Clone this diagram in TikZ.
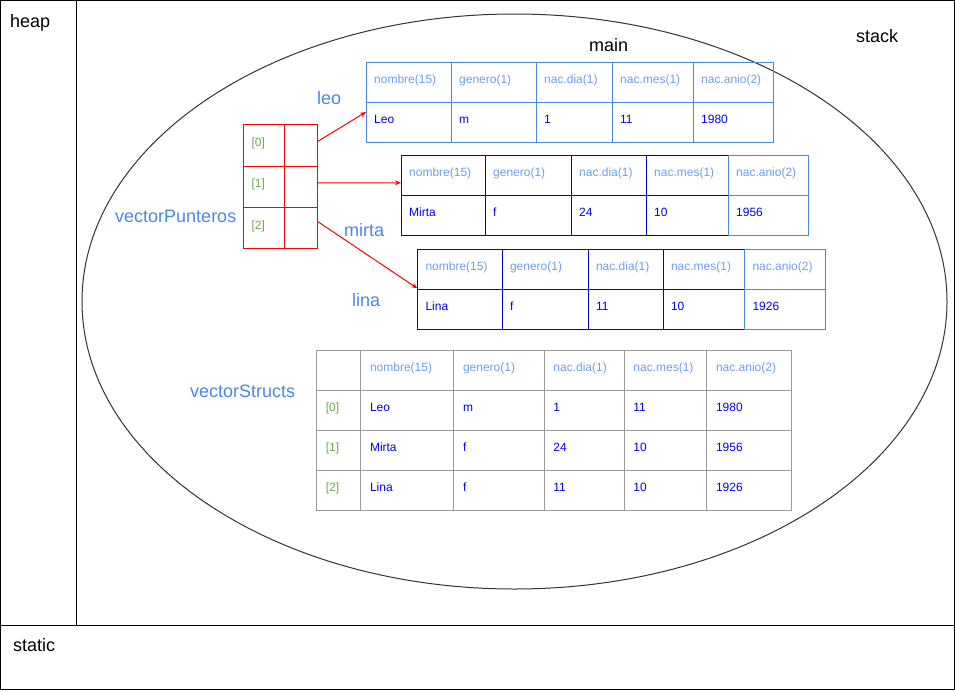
\documentclass[tikz,border=0pt]{standalone}
\usepackage{fontspec}
\setmainfont{Liberation Sans}
\usetikzlibrary{arrows.meta,shapes.geometric}
\definecolor{lblue}{HTML}{4A86E8}
\definecolor{hblue}{HTML}{6D9EEB}
\definecolor{dblue}{HTML}{0000DD}
\definecolor{vblue}{HTML}{0000FF}
\definecolor{igreen}{HTML}{6AA84F}
\definecolor{sgray}{HTML}{999999}
\definecolor{pred}{HTML}{FF0000}
\tikzset{
  bigtxt/.style={font=\fontsize{18}{20}\selectfont, inner sep=0pt, anchor=base west},
  lbl/.style={bigtxt, text=lblue},
  cell/.style={anchor=north west, minimum height=40pt, inner sep=0pt, line width=1pt, draw},
  small/.style={font=\fontsize{12}{14}\selectfont, inner sep=0pt, anchor=base west, yshift=-1pt},
  htxt/.style={small, text=hblue},
  dtxt/.style={small, text=vblue},
  itxt/.style={small, text=igreen},
  pcell/.style={anchor=north west, minimum height=41.3pt, inner sep=0pt, line width=1pt, draw=pred},
  ptr/.style={draw=pred, line width=1pt, -{Stealth[length=6pt,width=5pt]}},
}
\begin{document}
\begin{tikzpicture}[x=1pt,y=-1pt]
\useasboundingbox (0,0) rectangle (955,691);
% frame
\draw[line width=1pt] (0.6,0.6) rectangle (954.4,689.4);
\draw[line width=1pt] (76,0.6) -- (76,625);
\draw[line width=1pt] (0.6,625) -- (954.4,625);
\node[bigtxt] (heap) at (10,27) {heap};
\node[bigtxt] (static) at (13,651) {static};
\node[bigtxt] (stack) at (856,42) {stack};
% main ellipse
\node[ellipse, draw=black!80, line width=1pt, minimum width=865pt, minimum height=575pt, inner sep=0pt] (mainframe) at (514.5,301.5) {};
\node[bigtxt] (maintitle) at (589,51.5) {main};
% labels
\node[lbl] (leolbl) at (317,104) {leo};
\node[lbl] (mirtalbl) at (344,236) {mirta};
\node[lbl] (linalbl) at (352,306) {lina};
\node[lbl] (vplbl) at (115,222) {vectorPunteros};
\node[lbl] (vslbl) at (190,397) {vectorStructs};
% leo table
\foreach \c/\x/\w/\h/\v in {1/0/85/nombre(15)/Leo, 2/85/85/genero(1)/m, 3/170/76/nac.dia(1)/1, 4/246/81/nac.mes(1)/11, 5/327/80/nac.anio(2)/1980} {
  \node[cell, draw=lblue, minimum width=\w pt] (leo-h\c) at (366+\x,61.5) {};
  \node[cell, draw=lblue, minimum width=\w pt] (leo-d\c) at (366+\x,101.5) {};
  \node[htxt] (leo-h\c-t) at ([xshift=8pt]leo-h\c.west) {\h};
  \node[dtxt] (leo-d\c-t) at ([xshift=8pt]leo-d\c.west) {\v};
}
% mirta table
\foreach \c/\x/\w/\h/\v/\col in {1/0/84/nombre(15)/Mirta/dblue, 2/84/86/genero(1)/f/dblue, 3/170/75/nac.dia(1)/24/dblue, 4/245/82/nac.mes(1)/10/dblue, 5/327/80/nac.anio(2)/1956/lblue} {
  \node[cell, draw=\col, minimum width=\w pt] (mirta-h\c) at (401+\x,155.3) {};
  \node[cell, draw=\col, minimum width=\w pt] (mirta-d\c) at (401+\x,195.3) {};
  \node[htxt] (mirta-h\c-t) at ([xshift=8pt]mirta-h\c.west) {\h};
  \node[dtxt] (mirta-d\c-t) at ([xshift=8pt]mirta-d\c.west) {\v};
}
% lina table
\foreach \c/\x/\w/\h/\v/\col in {1/0/84.5/nombre(15)/Lina/dblue, 2/84.5/86/genero(1)/f/dblue, 3/170.5/75/nac.dia(1)/11/dblue, 4/245.5/81.5/nac.mes(1)/10/dblue, 5/327/80.5/nac.anio(2)/1926/lblue} {
  \node[cell, draw=\col, minimum width=\w pt] (lina-h\c) at (417.3+\x,249.3) {};
  \node[cell, draw=\col, minimum width=\w pt] (lina-d\c) at (417.3+\x,289.3) {};
  \node[htxt] (lina-h\c-t) at ([xshift=8pt]lina-h\c.west) {\h};
  \node[dtxt] (lina-d\c-t) at ([xshift=8pt]lina-d\c.west) {\v};
}
% vectorPunteros
\foreach \r/\y in {0/124.3, 1/165.6, 2/206.9} {
  \node[pcell, minimum width=41pt] (vp-i\r) at (243.3,\y) {};
  \node[pcell, minimum width=32.4pt] (vp-p\r) at (284.3,\y) {};
  \node[itxt] (vp-i\r-t) at ([xshift=8pt]vp-i\r.west) {[\r]};
}
\draw[ptr] ([yshift=4pt]vp-p0.east) -- ([yshift=10pt]leo-d1.west);
\draw[ptr] ([yshift=4pt]vp-p1.east) -- ([yshift=-7pt]mirta-h1.west);
\draw[ptr] ([yshift=6.5pt]vp-p2.east) -- ([yshift=2pt]lina-h1.south west);
% vectorStructs
\foreach \c/\x/\w in {1/0/44.6, 2/44.6/93, 3/137.6/90.4, 4/228/80, 5/308/82.6, 6/390.6/84.4} {
  \node[cell, draw=sgray, minimum width=\w pt] (vs-h\c) at (315.7+\x,350) {};
  \node[cell, draw=sgray, minimum width=\w pt] (vs-a\c) at (315.7+\x,390.2) {};
  \node[cell, draw=sgray, minimum width=\w pt] (vs-b\c) at (315.7+\x,430.2) {};
  \node[cell, draw=sgray, minimum width=\w pt] (vs-c\c) at (315.7+\x,470.2) {};
}
\foreach \c/\h/\a/\b/\d in {2/nombre(15)/Leo/Mirta/Lina, 3/genero(1)/m/f/f, 4/nac.dia(1)/1/24/11, 5/nac.mes(1)/11/10/10, 6/nac.anio(2)/1980/1956/1926} {
  \node[htxt] (vs-h\c-t) at ([xshift=9.5pt]vs-h\c.west) {\h};
  \node[dtxt] (vs-a\c-t) at ([xshift=9.5pt]vs-a\c.west) {\a};
  \node[dtxt] (vs-b\c-t) at ([xshift=9.5pt]vs-b\c.west) {\b};
  \node[dtxt] (vs-c\c-t) at ([xshift=9.5pt]vs-c\c.west) {\d};
}
\node[itxt] (vs-a1-t) at ([xshift=10pt]vs-a1.west) {[0]};
\node[itxt] (vs-b1-t) at ([xshift=10pt]vs-b1.west) {[1]};
\node[itxt] (vs-c1-t) at ([xshift=10pt]vs-c1.west) {[2]};
\end{tikzpicture}
\end{document}
